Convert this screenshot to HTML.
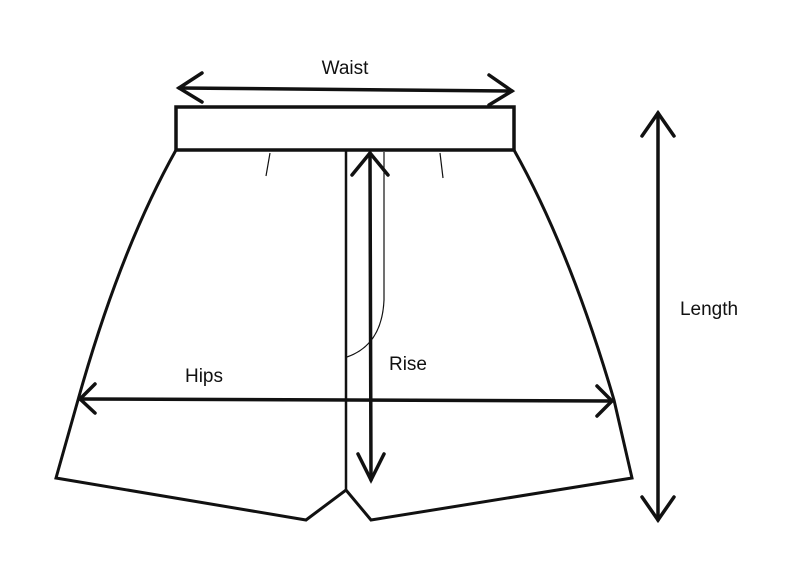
<!DOCTYPE html>
<html><head><style>body{margin:0;background:#fff}svg{display:block}text{font-family:"Liberation Sans",sans-serif;font-size:19px;fill:#111}</style></head>
<body>
<svg width="800" height="583" viewBox="0 0 800 583">
<g fill="none" stroke="#111" stroke-linejoin="miter">
<path d="M176,150 Q120,250 78,400 L56,478 L306,520 L346,490 L371,520 L632,478 L614,400 Q570,250 514,150" stroke-width="3"/>
<rect x="176" y="107" width="338" height="43" stroke-width="3.5" fill="#fff"/>
<line x1="346" y1="150" x2="346" y2="490" stroke-width="2.5"/>
<path d="M384,152 L384,300 Q382,345 347,357" stroke-width="1.2"/>
<line x1="270" y1="153" x2="266" y2="176" stroke-width="1.2"/>
<line x1="440" y1="153" x2="443" y2="178" stroke-width="1.2"/>
<g stroke-width="3.5" stroke-linecap="round">
<line x1="179" y1="88" x2="512" y2="91"/><path d="M202,73 L179,88 L202,102"/><path d="M489,75 L512,91 L489,105"/>
<line x1="80" y1="399" x2="612" y2="401"/><path d="M95,384 L80,399 L95,413"/><path d="M597,386 L612,401 L597,416"/>
<line x1="370" y1="153" x2="371" y2="480"/><path d="M352,175 L370,153 L388,175"/><path d="M358,454 L371,480 L384,454"/>
<line x1="658" y1="113" x2="658" y2="520"/><path d="M642,136 L658,113 L674,136"/><path d="M642,497 L658,520 L674,497"/>
</g></g>
<text x="345" y="74" text-anchor="middle">Waist</text>
<text x="204" y="382" text-anchor="middle">Hips</text>
<text x="408" y="370" text-anchor="middle">Rise</text>
<text x="709" y="315" text-anchor="middle">Length</text>
</svg>
</body></html>
